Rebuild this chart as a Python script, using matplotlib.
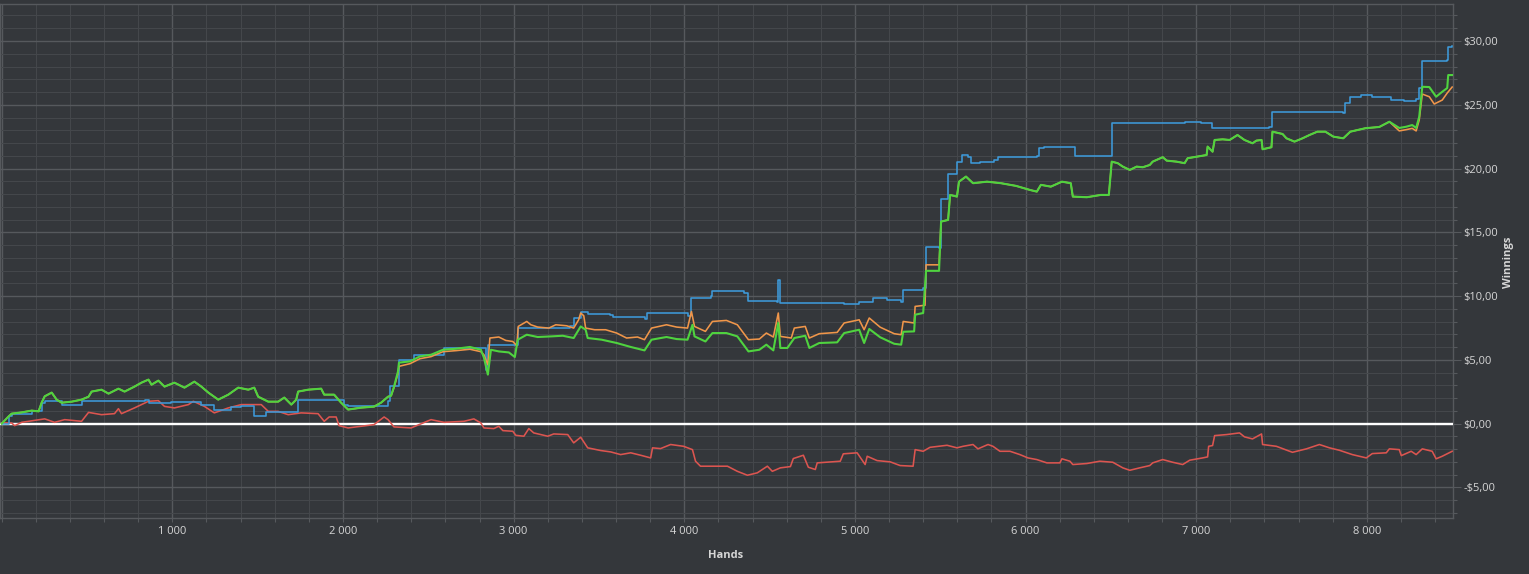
import matplotlib.pyplot as plt
from matplotlib.ticker import MultipleLocator, FuncFormatter

# (hand, winnings $)
net_won = [
    (0, 0.00), (41, 0.57), (58, 0.78), (117, 0.88), (176, 1.02), (216, 0.96), (234, 1.64),
    (252, 2.14), (293, 2.43), (322, 1.88), (351, 1.64), (410, 1.72), (468, 1.88), (509, 2.11),
    (527, 2.51), (585, 2.66), (626, 2.35), (684, 2.74), (720, 2.51), (778, 2.90), (819, 3.21),
    (860, 3.45), (878, 3.05), (918, 3.37), (954, 2.90), (1012, 3.21), (1071, 2.82), (1129, 3.29),
    (1170, 2.90), (1211, 2.43), (1269, 1.88), (1328, 2.27), (1386, 2.82), (1445, 2.66),
    (1480, 2.82), (1503, 2.11), (1562, 1.72), (1620, 1.72), (1656, 2.04), (1697, 1.49),
    (1726, 1.88), (1737, 2.51), (1796, 2.66), (1872, 2.74), (1890, 2.27), (1948, 2.27),
    (1989, 1.64), (2030, 1.10), (2106, 1.25), (2182, 1.33), (2223, 1.64), (2264, 2.11),
    (2282, 2.19), (2299, 2.90), (2322, 4.07), (2328, 4.78), (2393, 4.88), (2451, 5.27),
    (2516, 5.40), (2586, 5.79), (2662, 5.87), (2744, 6.01), (2808, 5.79), (2826, 5.17),
    (2849, 3.84), (2867, 5.79), (2913, 5.66), (2972, 5.58), (3007, 5.22), (3024, 6.58),
    (3077, 6.97), (3141, 6.79), (3223, 6.84), (3288, 6.89), (3352, 6.71), (3393, 7.62),
    (3422, 7.36), (3434, 6.71), (3516, 6.58), (3604, 6.32), (3686, 6.01), (3767, 5.74),
    (3808, 6.58), (3896, 6.79), (3955, 6.63), (4019, 6.58), (4048, 7.75), (4060, 6.84),
    (4124, 6.44), (4165, 7.10), (4247, 7.10), (4311, 6.84), (4376, 5.66), (4440, 5.79),
    (4481, 6.19), (4522, 5.74), (4551, 7.90), (4563, 5.93), (4604, 5.93), (4645, 6.71),
    (4709, 6.89), (4733, 5.93), (4791, 6.32), (4896, 6.37), (4937, 7.10), (5025, 7.36),
    (5054, 6.32), (5084, 7.42), (5148, 6.77), (5230, 6.26), (5271, 6.19), (5283, 7.20),
    (5347, 7.23), (5353, 8.54), (5400, 8.67), (5417, 11.98), (5493, 11.98), (5505, 15.84),
    (5546, 15.97), (5558, 17.93), (5598, 17.80), (5610, 18.97), (5651, 19.37), (5692, 18.85),
    (5774, 18.97), (5856, 18.85), (5944, 18.64), (6026, 18.32), (6066, 18.19), (6090, 18.72),
    (6148, 18.58), (6213, 18.97), (6265, 18.85), (6277, 17.80), (6359, 17.75), (6441, 17.93),
    (6488, 17.93), (6505, 20.54), (6540, 20.42), (6570, 20.15), (6611, 19.89), (6651, 20.15),
    (6687, 20.10), (6728, 20.28), (6745, 20.54), (6804, 20.89), (6827, 20.62), (6885, 20.54),
    (6932, 20.42), (6950, 20.81), (7002, 20.93), (7061, 21.06), (7067, 21.72), (7096, 21.32),
    (7108, 22.24), (7155, 22.29), (7196, 22.24), (7242, 22.63), (7283, 22.24), (7330, 21.98),
    (7353, 22.19), (7383, 22.24), (7389, 21.51), (7441, 21.67), (7447, 22.89), (7506, 22.71),
    (7529, 22.37), (7576, 22.11), (7623, 22.37), (7664, 22.63), (7710, 22.89), (7757, 22.89),
    (7804, 22.50), (7862, 22.37), (7903, 22.89), (7991, 23.16),
    (8073, 23.26), (8132, 23.67), (8190, 23.18), (8231, 23.28), (8266, 23.41), (8289, 23.18),
    (8307, 24.06), (8325, 26.41), (8366, 26.39), (8406, 25.63), (8442, 26.02), (8471, 26.31),
    (8477, 27.33), (8500, 27.33),
]

allin_ev = [
    (0, 0.00), (41, 0.57), (58, 0.78), (117, 0.88), (176, 1.02), (216, 0.96), (234, 1.64),
    (252, 2.14), (293, 2.43), (322, 1.88), (351, 1.64), (410, 1.72), (468, 1.88), (509, 2.11),
    (527, 2.51), (585, 2.66), (626, 2.35), (684, 2.74), (720, 2.51), (778, 2.90), (819, 3.21),
    (860, 3.45), (878, 3.05), (918, 3.37), (954, 2.90), (1012, 3.21), (1071, 2.82), (1129, 3.29),
    (1170, 2.90), (1211, 2.43), (1269, 1.88), (1328, 2.27), (1386, 2.82), (1445, 2.66),
    (1480, 2.82), (1503, 2.11), (1562, 1.72), (1620, 1.72), (1656, 2.04), (1697, 1.49),
    (1726, 1.88), (1737, 2.51), (1796, 2.66), (1872, 2.74), (1890, 2.27), (1948, 2.27),
    (1989, 1.64), (2030, 1.10), (2106, 1.25), (2182, 1.33), (2223, 1.64), (2264, 2.11),
    (2282, 2.19), (2299, 2.82), (2322, 3.92), (2328, 4.49), (2393, 4.70), (2451, 5.09),
    (2516, 5.25), (2586, 5.64), (2662, 5.72), (2744, 5.83), (2808, 5.64), (2826, 5.40),
    (2849, 4.62), (2861, 6.71), (2913, 6.79), (2954, 6.52), (2995, 6.44), (3019, 6.11),
    (3027, 7.62), (3077, 8.01), (3101, 7.75), (3141, 7.57), (3206, 7.49), (3247, 7.75),
    (3311, 7.67), (3352, 7.49), (3381, 8.14), (3393, 8.67), (3411, 8.46), (3422, 7.49),
    (3475, 7.36), (3539, 7.36), (3604, 7.10), (3662, 6.71), (3726, 6.79), (3767, 6.58),
    (3808, 7.49), (3896, 7.75), (3955, 7.57), (4019, 7.49), (4042, 8.79), (4060, 7.62),
    (4124, 7.23), (4165, 8.01), (4247, 8.09), (4311, 7.75), (4376, 6.58), (4440, 6.63),
    (4481, 7.10), (4522, 6.79), (4551, 8.67), (4563, 6.84), (4627, 6.71), (4645, 7.49),
    (4709, 7.62), (4733, 6.71), (4791, 7.05), (4896, 7.15), (4937, 7.89), (5025, 8.14),
    (5054, 7.36), (5084, 8.28), (5148, 7.56), (5230, 7.05), (5271, 6.97), (5283, 8.01),
    (5347, 7.89), (5353, 9.19), (5411, 9.28), (5417, 12.45), (5493, 12.45), (5505, 15.84),
    (5546, 15.97), (5558, 17.93), (5598, 17.80), (5610, 18.97), (5651, 19.37), (5692, 18.85),
    (5774, 18.97), (5856, 18.85), (5944, 18.64), (6026, 18.32), (6066, 18.19), (6090, 18.72),
    (6148, 18.58), (6213, 18.97), (6265, 18.85), (6277, 17.80), (6359, 17.75), (6441, 17.93),
    (6488, 17.93), (6505, 20.54), (6540, 20.42), (6570, 20.15), (6611, 19.89), (6651, 20.15),
    (6687, 20.10), (6728, 20.28), (6745, 20.54), (6804, 20.89), (6827, 20.62), (6885, 20.54),
    (6932, 20.42), (6950, 20.81), (7002, 20.93), (7061, 21.06), (7067, 21.72), (7096, 21.32),
    (7108, 22.24), (7155, 22.29), (7196, 22.24), (7242, 22.63), (7283, 22.24), (7330, 21.98),
    (7353, 22.19), (7383, 22.24), (7389, 21.51), (7441, 21.67), (7447, 22.89), (7506, 22.71),
    (7529, 22.37), (7576, 22.11), (7623, 22.37), (7664, 22.63), (7710, 22.89), (7757, 22.89),
    (7804, 22.50), (7862, 22.37), (7903, 22.89), (7991, 23.16),
    (8073, 23.26), (8132, 23.67), (8190, 22.95), (8231, 23.05), (8266, 23.15), (8289, 22.95),
    (8307, 23.81), (8325, 25.84), (8366, 25.63), (8395, 25.06), (8442, 25.37), (8471, 25.92),
    (8500, 26.39),
]

showdown = [
    (0, 0.00), (41, 0.57), (58, 0.78), (176, 1.02), (234, 1.64), (252, 1.75), (351, 1.43),
    (468, 1.75), (819, 1.80), (837, 1.88), (866, 1.62), (995, 1.70), (1170, 1.49), (1246, 1.10),
    (1346, 1.29), (1404, 1.35), (1480, 0.63), (1550, 0.88), (1737, 1.88), (2007, 1.49),
    (2030, 1.35), (2264, 1.75), (2276, 2.92), (2328, 5.01), (2416, 5.40), (2592, 5.93),
    (2826, 5.93), (2837, 4.23), (2849, 6.19), (2995, 6.19), (3024, 7.49), (3329, 7.62),
    (3352, 8.28), (3393, 8.79), (3434, 8.61), (3563, 8.54), (3580, 8.36), (3767, 8.20),
    (3779, 8.67), (4019, 8.46), (4042, 9.84), (4154, 9.97), (4165, 10.42), (4335, 10.36),
    (4352, 10.23), (4376, 9.58), (4545, 9.50), (4551, 11.28), (4563, 9.45), (4937, 9.40),
    (5025, 9.50), (5107, 9.84), (5189, 9.66), (5271, 9.50), (5283, 10.49), (5400, 10.63),
    (5417, 13.88), (5493, 13.76), (5505, 17.60), (5546, 19.55), (5587, 19.55), (5598, 20.54),
    (5628, 21.06), (5663, 20.93), (5680, 20.42), (5733, 20.54), (5815, 20.67), (5838, 20.89),
    (6066, 20.99), (6078, 21.59), (6107, 21.72), (6277, 21.72), (6289, 20.99), (6488, 20.99),
    (6505, 23.59), (6932, 23.67), (7026, 23.59), (7090, 23.16), (7424, 23.23), (7447, 24.46),
    (7804, 24.46), (7862, 24.33), (7874, 25.11), (7903, 25.63), (7968, 25.76), (8032, 25.63),
    (8143, 25.37), (8219, 25.32), (8289, 25.43), (8307, 26.29), (8325, 28.43), (8471, 28.50),
    (8477, 29.55), (8500, 29.62),
]

non_showdown = [
    (0, 0.05), (58, 0.05), (76, -0.16), (117, 0.10), (252, 0.37), (310, 0.10), (369, 0.31),
    (468, 0.18), (509, 0.88), (585, 0.70), (661, 0.78), (684, 1.17), (702, 0.78), (778, 1.23),
    (860, 1.75), (918, 1.80), (954, 1.35), (1012, 1.23), (1094, 1.49), (1123, 1.75),
    (1188, 1.35), (1246, 0.84), (1328, 1.23), (1404, 1.49), (1521, 1.49), (1562, 0.96),
    (1620, 0.96), (1679, 0.70), (1755, 0.84), (1854, 0.78), (1890, 0.18), (1919, 0.52),
    (1960, 0.52), (1977, -0.16), (2030, -0.34), (2106, -0.21), (2182, -0.08), (2241, 0.52),
    (2264, 0.31), (2299, -0.26), (2399, -0.34), (2516, 0.31), (2592, 0.10), (2709, 0.18),
    (2767, 0.37), (2808, 0.05), (2826, -0.34), (2884, -0.39), (2913, -0.21), (2937, -0.55),
    (2995, -0.60), (3013, -0.92), (3060, -0.99), (3089, -0.39), (3118, -0.73), (3200, -0.99),
    (3235, -0.81), (3317, -0.86), (3352, -1.51), (3393, -1.07), (3434, -1.90), (3510, -2.11),
    (3569, -2.22), (3627, -2.43), (3686, -2.29), (3744, -2.48), (3803, -2.69), (3814, -1.90),
    (3861, -1.96), (3920, -1.64), (3996, -1.78), (4048, -2.04), (4066, -2.95), (4095, -3.34),
    (4253, -3.34), (4311, -3.74), (4370, -4.05), (4428, -3.86), (4487, -3.34), (4516, -3.74),
    (4563, -3.47), (4622, -3.37), (4639, -2.74), (4698, -2.48), (4727, -3.42), (4768, -3.60),
    (4779, -3.08), (4914, -2.95), (4932, -2.37), (5013, -2.29), (5060, -3.21), (5072, -2.56),
    (5130, -2.90), (5207, -3.00), (5265, -3.29), (5341, -3.34), (5353, -2.04), (5400, -2.17),
    (5440, -1.86), (5540, -1.70), (5598, -1.90), (5634, -1.78), (5692, -1.64), (5721, -1.98),
    (5780, -1.64), (5809, -1.78), (5850, -2.17), (5909, -2.17), (5967, -2.43), (6014, -2.69),
    (6066, -2.82), (6125, -3.08), (6201, -3.08), (6213, -2.76), (6260, -2.95), (6277, -3.21),
    (6359, -3.13), (6435, -2.95), (6511, -3.03), (6570, -3.47), (6611, -3.66), (6669, -3.47),
    (6728, -3.29), (6745, -3.08), (6804, -2.82), (6862, -3.03), (6921, -3.21), (6962, -2.87),
    (7038, -2.69), (7067, -2.61), (7073, -1.78), (7096, -1.72), (7108, -0.94),
    (7178, -0.86), (7254, -0.73), (7283, -1.04), (7330, -1.20), (7383, -0.81), (7389, -1.64),
    (7470, -1.78), (7564, -2.25), (7646, -1.98), (7722, -1.64), (7781, -1.90), (7839, -2.09),
    (7915, -2.43), (7997, -2.69), (8032, -2.35), (8114, -2.29), (8132, -1.98), (8190, -2.04),
    (8202, -2.51), (8260, -2.17), (8289, -2.43), (8325, -1.98), (8383, -2.17), (8406, -2.76),
    (8442, -2.56), (8500, -2.17),
]

bg = '#34373b'
grid_major = '#56595d'
grid_minor = '#44474b'
text_col = '#d6d6d6'
plt.rcParams['font.family'] = ['Open Sans', 'DejaVu Sans']

fig = plt.figure(figsize=(15.29, 5.74), dpi=100, facecolor=bg)
ax = fig.add_axes([0.0, 0.0976, 0.9503, 0.8954], facecolor=bg)

# red, blue, orange, green (green drawn on top); showdown line is a staircase
series = [
    (non_showdown, '#dc5550', 1.15, 'default'),
    (showdown, '#3d9ad9', 1.15, 'steps-post'),
    (allin_ev, '#f0964a', 1.15, 'default'),
    (net_won, '#4fd33f', 1.5, 'default'),
]
for pts, col, lw, ds in series:
    hands, won = zip(*pts)
    ax.plot(hands, won, color=col, lw=lw, drawstyle=ds, zorder=4)

ax.axhline(0, color='white', lw=1.7, zorder=3)

ax.set_xlim(-10, 8505)
ax.set_ylim(-7.4, 32.9)
ax.xaxis.set_major_locator(MultipleLocator(1000))
ax.xaxis.set_minor_locator(MultipleLocator(200))
ax.yaxis.set_major_locator(MultipleLocator(5))
ax.yaxis.set_minor_locator(MultipleLocator(1))


def fmt_hands(v, pos):
    if v <= 0:
        return ''
    return f'{int(v):,}'.replace(',', ' ')


def fmt_money(v, pos):
    s = f'{abs(v):.2f}'.replace('.', ',')
    return ('-$' if v < -1e-9 else '$') + s


ax.xaxis.set_major_formatter(FuncFormatter(fmt_hands))
ax.yaxis.set_major_formatter(FuncFormatter(fmt_money))
ax.yaxis.tick_right()

ax.grid(which='major', color=grid_major, lw=1.0, zorder=1)
ax.grid(which='minor', color=grid_minor, lw=0.8, zorder=1)
ax.set_axisbelow(True)

ax.tick_params(which='both', colors=grid_major, labelcolor=text_col, labelsize=8, width=0.8)
ax.tick_params(axis='x', which='both', length=3, pad=3)
ax.tick_params(axis='y', which='major', length=6, pad=1.5)
ax.tick_params(axis='y', which='minor', length=3)
for sp in ax.spines.values():
    sp.set_color(grid_major)
    sp.set_linewidth(1.0)

fig.text(726 / 1529, 1 - 556 / 574, 'Hands', ha='center', va='center',
         color=text_col, fontsize=8, fontweight='bold')
fig.text(1508 / 1529, 1 - 262 / 574, 'Winnings', ha='center', va='center', rotation=90,
         color=text_col, fontsize=8, fontweight='bold')

fig.savefig('out.png', dpi=100, facecolor=bg)
